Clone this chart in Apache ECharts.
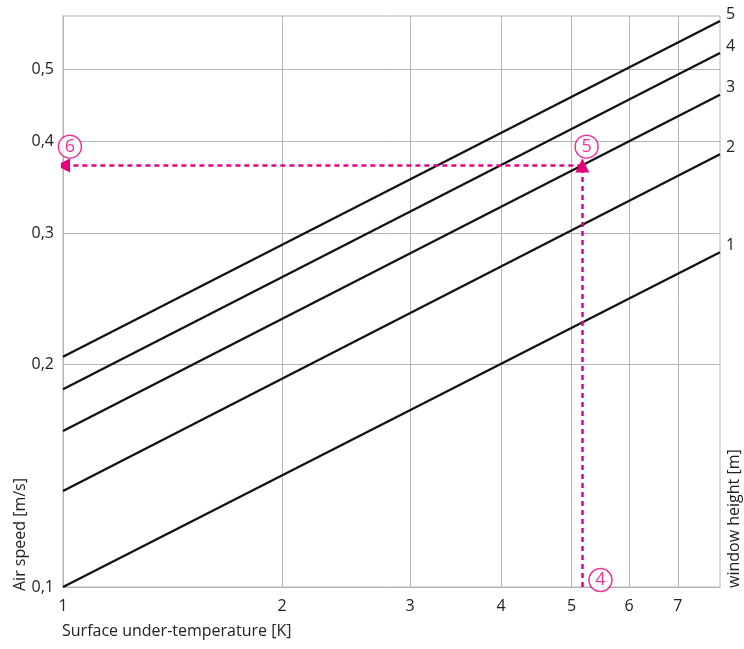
<!DOCTYPE html>
<html><head><meta charset="utf-8">
<script src="https://cdn.jsdelivr.net/npm/echarts@6/dist/echarts.min.js"></script>
<style>html,body{margin:0;padding:0;background:#fff}#c{width:744px;height:649px}</style>
</head><body><div id="c"></div>
<script>
// window heights [m]
const heights = ['1', '2', '3', '4', '5'];
// air speed [m/s] at under-temperature 1 K and 8 K for each height
const tempEnds = [1, 8];
const speedAt1 = [0.100, 0.1348, 0.1624, 0.1849, 0.2046];
const speedAt8 = [0.283, 0.384, 0.462, 0.526, 0.581];
// tick values
const xTicks = [1, 2, 3, 4, 5, 6, 7];
const yTicks = [0.1, 0.2, 0.3, 0.4, 0.5];
// reading example
const exampleTemp = 5.175;
const exampleSpeed = 0.3708;
const markers = [
  { label: '4', x: 5.48, y: 0.1022 },
  { label: '5', x: 5.245, y: 0.393 },
  { label: '6', x: 1.022, y: 0.393 }
];

const FONT = '"Open Sans", "Noto Sans", sans-serif';
const MAG = '#e6007e';
const GRIDC = '#b4b4b4';

const chart = echarts.init(document.getElementById('c'));

const lineSeries = heights.map((h, i) => ({
  type: 'line',
  data: [[tempEnds[0], speedAt1[i]], [tempEnds[1], speedAt8[i]]],
  symbol: 'none',
  lineStyle: { color: '#111', width: 2.3 },
  silent: true,
  z: 3,
  endLabel: {
    show: true,
    formatter: h,
    color: '#222',
    fontFamily: FONT,
    fontSize: 16,
    offset: [0, -7],
    distance: 6
  }
}));

chart.setOption({
  animation: false,
  grid: { left: 63, right: 24, top: 16, bottom: 62, show: true, borderColor: GRIDC, borderWidth: 1 },
  xAxis: {
    type: 'log', min: 1, max: 8,
    axisLine: { show: true, lineStyle: { color: GRIDC, width: 1 } },
    axisTick: { show: false, customValues: xTicks },
    axisLabel: { customValues: xTicks, color: '#222', fontFamily: FONT, fontSize: 16, margin: 11, formatter: v => String(v) },
    splitLine: { show: true, lineStyle: { color: GRIDC, width: 1 } },
    minorTick: { show: false }, minorSplitLine: { show: false }
  },
  yAxis: {
    type: 'log', min: 0.1, max: 0.59,
    axisLine: { show: true, lineStyle: { color: GRIDC, width: 1 } },
    axisTick: { show: false, customValues: yTicks },
    axisLabel: { customValues: yTicks, color: '#222', fontFamily: FONT, fontSize: 16, margin: 9,
      formatter: v => String(Math.round(v * 10) / 10).replace('.', ',') },
    splitLine: { show: true, lineStyle: { color: GRIDC, width: 1 } }
  },
  series: lineSeries.concat([
    {
      type: 'lines',
      coordinateSystem: 'cartesian2d',
      polyline: false,
      symbol: ['none', 'triangle'],
      symbolSize: [0, 14],
      lineStyle: { color: MAG, width: 2.5, type: [5, 4], opacity: 1, curveness: 0 },
      data: [
        { coords: [[exampleTemp, 0.1], [exampleTemp, exampleSpeed]] },
        { coords: [[exampleTemp, exampleSpeed], [1, exampleSpeed]] }
      ],
      z: 4
    },
    {
      type: 'scatter',
      data: markers.map(m => ({ value: [m.x, m.y], name: m.label })),
      symbol: 'circle',
      symbolSize: 23,
      itemStyle: { color: '#fff', borderColor: MAG, borderWidth: 1.5 },
      label: { show: true, position: 'inside', formatter: p => p.name, color: MAG, fontFamily: FONT, fontSize: 18 },
      z: 5
    }
  ]),
  graphic: [
    { type: 'text', left: 62, top: 623,
      style: { text: 'Surface under-temperature [K]', fill: '#222', font: '16px ' + FONT } },
    { type: 'text', x: 12, y: 591, rotation: Math.PI / 2,
      style: { text: 'Air speed [m/s]', fill: '#222', font: '16px ' + FONT, textAlign: 'left', textVerticalAlign: 'top' } },
    { type: 'text', x: 726, y: 588, rotation: Math.PI / 2,
      style: { text: 'window height [m]', fill: '#222', font: '16px ' + FONT, textAlign: 'left', textVerticalAlign: 'top' } }
  ]
});
</script>
</body></html>
